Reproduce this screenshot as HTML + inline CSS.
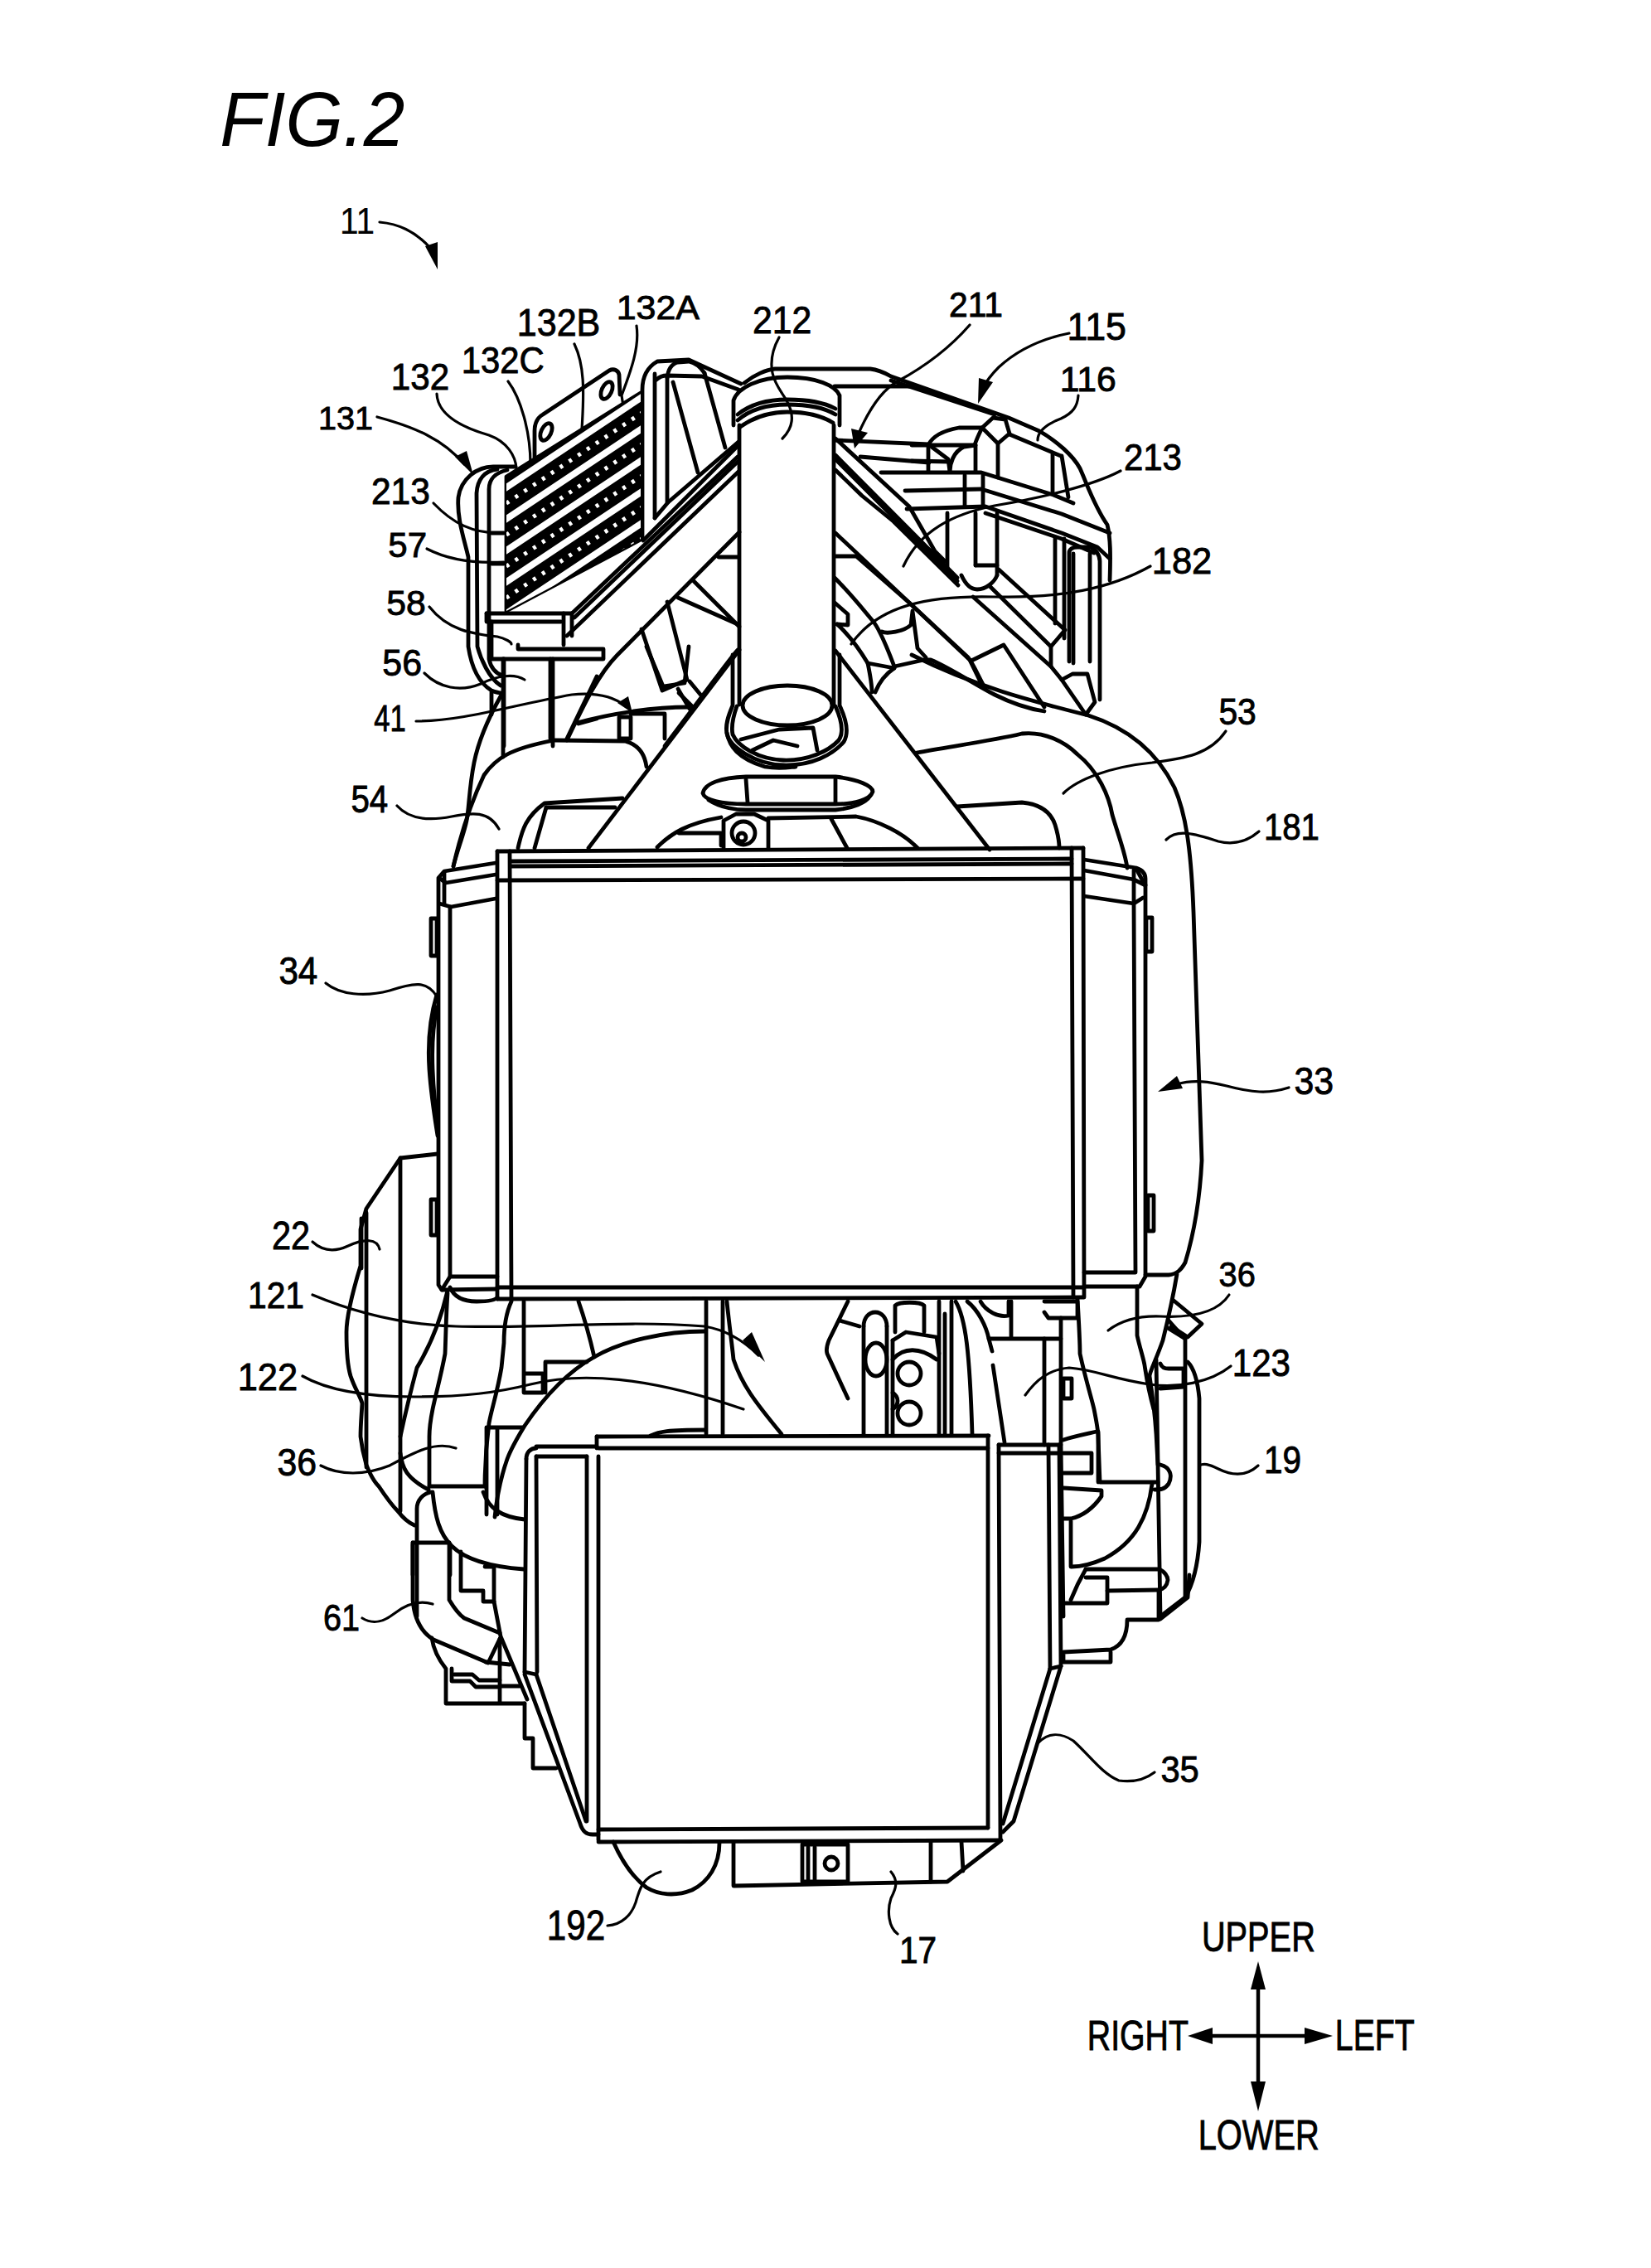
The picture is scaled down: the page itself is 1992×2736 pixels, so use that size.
<!DOCTYPE html>
<html><head><meta charset="utf-8"><style>
html,body{margin:0;padding:0;background:#fff;}
svg{display:block;}
text{font-family:"Liberation Sans",sans-serif;fill:#000;stroke:#000;stroke-width:0.9;}
.s{fill:none;stroke:#000;stroke-width:4.8;stroke-linejoin:round;stroke-linecap:round;}
.t{fill:none;stroke:#000;stroke-width:3.2;stroke-linejoin:round;stroke-linecap:round;}
.f{fill:#000;stroke:none;}
.w{fill:#fff;stroke:#000;stroke-width:4;stroke-linejoin:round;}
</style></head><body>
<svg width="1992" height="2736" viewBox="0 0 1992 2736">
<g class="s"><path d="M600,1027 L1307,1023"/><path d="M617,1039 L1293,1036"/><path d="M617,1045 L1293,1042"/><path d="M600,1062 L1307,1060"/><path d="M600,1553 L1307,1553"/><path d="M600,1567 L1307,1565"/><path d="M600,1027 L600,1567"/><path d="M615,1027 L617,1567"/><path d="M1293,1023 L1295,1565"/><path d="M1307,1023 L1308,1565"/><path d="M598,1041 L536,1051 L529,1059 L529,1550 L533,1556 L600,1555"/><path d="M598,1055 L538,1065 L531,1060"/><path d="M598,1084 L544,1094 L530,1090"/><path d="M536,1053 L536,1090"/><path d="M543,1094 L543,1540 L600,1540"/><path d="M533,1556 L543,1540"/><path d="M520,1108 L527,1108 L527,1153 L520,1153 Z"/><path d="M543,1553 C548,1565 560,1570 575,1570 C590,1570 598,1568 600,1565"/><path d="M1308,1037 L1371,1047 C1377,1049 1382,1053 1382,1060 L1382,1540 L1375,1552 L1308,1552"/><path d="M1308,1050 L1368,1061 L1382,1068"/><path d="M1308,1081 L1368,1090 L1379,1083"/><path d="M1368,1050 L1368,1090"/><path d="M1372,1050 L1380,1065"/><path d="M1368,1090 L1370,1535 L1308,1535"/><path d="M1383,1107 L1390,1107 L1390,1148 L1383,1148 Z"/><path d="M1385,1442 L1392,1442 L1392,1485 L1385,1485 Z"/><path d="M520,1447 L527,1447 L527,1490 L520,1490 Z"/><path d="M527,1200 C518,1230 516,1260 518,1290 C520,1320 524,1345 528,1370"/><path d="M527,1215 C522,1240 521,1265 522,1290 C523,1315 525,1335 528,1355"/><path d="M720,1733 L1193,1732"/><path d="M722,1747 L1192,1747"/><path d="M647,1745 L720,1745"/><path d="M647,1757 L708,1757"/><path d="M1205,1753 L1278,1753"/><path d="M720,1733 L720,1747"/><path d="M1192,1732 L1192,2205"/><path d="M1205,1743 L1207,2220"/><path d="M1205,1743 L1278,1743"/><path d="M1265,1743 L1267,2013"/><path d="M1278,1743 L1280,2010"/><path d="M635,1760 C635,1752 640,1747 647,1747"/><path d="M635,1760 L633,2017"/><path d="M647,1757 L648,2017"/><path d="M708,1757 L708,2197"/><path d="M722,1757 L722,2220"/><path d="M722,2207 L1192,2205"/><path d="M722,2222 L1207,2220"/><path d="M633,2020 L700,2200 C703,2210 708,2213 715,2213 L722,2213"/><path d="M647,2020 L707,2197"/><path d="M1267,2013 L1210,2200"/><path d="M1280,2010 L1223,2197 L1210,2210"/><path d="M633,2017 L647,2020"/><path d="M1267,2013 L1280,2010"/><path d="M885,2223 L885,2275 L1143,2270 L1208,2220"/><path d="M1123,2222 L1123,2270"/><path d="M1160,2222 L1162,2257"/><path d="M968,2225 L1023,2225 L1023,2270 L968,2270 Z"/><path d="M975,2228 L975,2268"/><path d="M983,2228 L983,2268"/><path d="M740,2222 C748,2240 760,2262 780,2277 C795,2286 815,2288 835,2280 C855,2270 868,2250 868,2223"/><path d="M611,575 L773,474 L773,651 L611,737 Z"/><path d="M645,552 L645,520 C645,510 648,504 655,500 L735,447 C741,444 746,447 747,452 L748,476"/><path d="M622,563 L595,563 C575,563 556,578 553,600 C551,625 560,650 565,672 L565,780 C568,800 575,822 593,833 C598,835 602,836 606,836"/><path d="M600,566 C585,568 576,578 575,595 L576,780 C580,795 590,818 604,827"/><path d="M612,567 C598,570 590,578 590,590 L590,795 C592,805 598,812 606,815"/><path d="M593,643 L608,643"/><path d="M593,680 L608,680"/><path d="M587,740 L690,740"/><path d="M587,740 L587,750 L677,750"/><path d="M593,750 L593,795 L728,795 L728,783 L625,783 L625,778"/><path d="M680,740 L680,778"/><path d="M690,740 L690,767"/><path d="M608,795 L608,900"/><path d="M667,795 L667,900"/><path d="M775,648 L775,470 C775,455 781,443 793,436 L831,434 L894,463"/><path d="M790,451 L790,625"/><path d="M805,456 L805,606"/><path d="M792,458 C796,454 800,453 805,453 L847,454 L891,470"/><path d="M805,456 C806,446 810,439 818,437 L831,436 C840,438 846,444 850,450"/><path d="M812,461 L842,570"/><path d="M850,450 L875,540"/><path d="M790,625 L806,606"/><path d="M776,652 L891,537"/><path d="M806,606 L891,533"/><path d="M690,740 L890,551"/><path d="M693,745 L890,557"/><path d="M684,767 L891,569"/><path d="M684,893 C700,860 720,815 745,790 L892,642"/><path d="M837,701 L892,756"/><path d="M818,721 L890,753"/><path d="M867,672 L890,672"/><path d="M805,726 L829,820 L799,833 L774,759"/><path d="M818,831 L832,855"/><path d="M832,822 L846,839"/><path d="M890,784 C880,795 870,810 802,900"/><path d="M710,1023 L892,784"/><path d="M547,1045 C555,1010 565,975 584,935 C598,915 615,903 669,893 L754,894 C770,898 778,910 780,925"/><path d="M604,840 C590,865 578,890 572,920 C566,950 566,975 563,990 C560,1005 552,1025 547,1045"/><path d="M684,891 L720,816"/><path d="M698,873 L720,867"/><path d="M593,835 L593,862"/><path d="M625,1023 C630,1000 635,985 657,969 L751,963"/><path d="M645,1023 L659,974"/><path d="M659,974 L742,974"/><path d="M747,865 L761,865 L761,891 L747,891 Z"/><path d="M761,861 L802,861 L802,891"/><path d="M696,872 C740,860 790,853 831,853"/><path d="M780,780 L800,828 L826,824 L831,780"/><path d="M819,836 L836,853"/><path d="M877,884 C880,900 890,915 923,925 C940,928 950,926 960,925"/><path d="M607,795 L607,913"/><path d="M664,795 L664,891"/><path d="M892,513 L892,850"/><path d="M1006,513 L1006,850"/><path d="M885,513 L885,483 C890,468 915,455 950,455 C985,455 1008,465 1013,477 L1013,513"/><path d="M890,500 C905,488 925,482 950,482 C975,482 995,486 1008,493"/><path d="M890,507 C905,494 925,488 950,488 C975,488 995,492 1008,500"/><path d="M893,515 C910,503 930,497 950,497 C975,497 992,502 1005,510"/><path d="M898,462 C910,452 925,446 935,445 L1050,445 C1060,446 1068,450 1075,454 L1217,504 L1254,520 C1275,532 1295,550 1303,565 C1312,585 1320,610 1336,633 C1340,650 1340,670 1339,700"/><path d="M1075,459 L1200,500"/><path d="M1007,466 L1100,466"/><path d="M1120,569 L1120,537 C1124,528 1135,520 1157,516 L1185,516"/><path d="M1185,516 L1198,504 L1213,506 L1218,523 L1204,535 L1185,516"/><path d="M1176,537 C1178,530 1181,524 1185,516"/><path d="M1177,537 L1177,569"/><path d="M1204,535 L1204,576"/><path d="M1146,569 C1146,560 1150,545 1163,539 L1177,537"/><path d="M1124,539 L1144,554 L1146,569"/><path d="M1100,537 L1177,537"/><path d="M1100,556 L1146,557"/><path d="M1218,524 L1280,550"/><path d="M1270,548 L1270,595"/><path d="M1281,550 L1289,600"/><path d="M1143,619 L1143,684"/><path d="M1177,619 L1177,682"/><path d="M1203,619 L1203,694"/><path d="M1160,694 C1165,705 1172,711 1179,711 C1190,711 1200,702 1203,694"/><path d="M1177,682 L1203,682"/><path d="M1007,531 L1121,536"/><path d="M1038,551 L1121,558"/><path d="M1063,570 L1184,570 L1271,597 L1295,607"/><path d="M1092,592 L1184,590 L1281,620 L1339,643"/><path d="M1094,614 L1189,611 L1281,643 L1324,660 L1339,674"/><path d="M1189,619 L1281,650 L1320,667"/><path d="M1164,573 L1164,611"/><path d="M1186,573 L1186,611"/><path d="M1273,648 L1273,752"/><path d="M1284,650 L1284,770"/><path d="M1290,798 L1290,667 C1290,662 1295,660 1300,660 L1315,660 C1322,662 1327,670 1327,677 L1327,844"/><path d="M1295,668 L1295,800"/><path d="M1315,668 L1315,798"/><path d="M1281,820 L1294,813 L1312,813 L1321,847 L1310,862 L1281,820"/><path d="M1008,529 L1097,611 L1128,665 L1140,677"/><path d="M1008,549 L1155,697"/><path d="M1008,554 L1155,701"/><path d="M1008,567 L1040,598 L1078,629 L1156,706"/><path d="M1008,643 L1170,796 L1186,829"/><path d="M1205,687 L1285,760 L1268,780 L1268,804"/><path d="M1194,707 L1268,780"/><path d="M1174,720 L1268,804 L1281,820"/><path d="M884,790 L884,851 C878,865 875,875 877,885 C880,900 910,922 945,923 C980,924 1005,910 1018,895 C1024,885 1022,870 1013,851 L1013,790"/><path d="M889,852 C884,866 882,876 884,886 C890,900 915,916 945,917 C975,918 1000,906 1012,893 C1018,884 1016,870 1008,852"/><path d="M894,892 L940,880 L981,878 L986,905"/><path d="M908,905 L933,893 L962,900"/><path d="M900,937 L1008,937 C1035,940 1053,948 1053,955 C1050,965 1030,970 1008,970 L900,970 C870,970 850,965 848,957 C850,945 870,938 900,937 Z"/><path d="M855,965 C870,975 890,977 900,977 L1008,977 C1030,975 1045,968 1050,960"/><path d="M900,940 L902,968"/><path d="M1008,940 L1008,968"/><path d="M873,1023 L873,990 L888,982 L910,982 L927,990 L927,1023"/><path d="M793,1022 C810,1005 830,993 870,986"/><path d="M819,1005 L870,1005 L870,1020"/><path d="M927,987 L1033,985 C1060,990 1090,1005 1107,1023"/><path d="M1003,988 L1022,1023"/><path d="M1008,785 L1194,1025"/><path d="M1007,671 L1033,671 L1097,727 L1168,793 C1175,802 1180,815 1189,831"/><path d="M1007,697 C1030,720 1045,740 1053,749 C1060,757 1068,775 1079,804"/><path d="M1007,727 L1023,741 L1023,754 L1010,753"/><path d="M1010,753 C1020,762 1035,780 1047,800 C1050,815 1052,825 1052,835"/><path d="M1064,762 C1070,765 1090,762 1099,754 L1101,737 L1107,782 L1117,793"/><path d="M1047,800 L1079,806"/><path d="M1079,804 L1115,796 L1123,796 C1145,805 1175,825 1200,838 C1220,848 1240,855 1260,858"/><path d="M1056,835 C1062,820 1070,812 1079,806"/><path d="M1172,797 L1211,778 L1260,853"/><path d="M1106,908 C1150,900 1200,893 1233,885 C1260,882 1285,895 1300,910 C1325,930 1338,960 1342,983 C1350,1010 1358,1030 1360,1047"/><path d="M1155,973 L1233,968 C1255,970 1268,980 1273,995 C1277,1008 1278,1015 1278,1023"/><path d="M1100,790 C1180,830 1250,847 1313,863 C1360,878 1395,905 1417,950 C1430,980 1437,1020 1440,1100 L1450,1400 C1448,1440 1443,1480 1430,1523 C1425,1532 1420,1537 1410,1538 L1382,1538"/><path d="M528,1392 L483,1397 L442,1458 L435,1483 L435,1527 C425,1560 418,1590 418,1607 C418,1630 420,1650 423,1660 C428,1675 435,1685 437,1693 C436,1710 435,1720 435,1733 C437,1750 440,1760 442,1767 C447,1780 452,1788 457,1793 C465,1805 472,1815 480,1823 C487,1832 493,1837 500,1840"/><path d="M442,1463 L442,1770"/><path d="M436,1470 L436,1530"/><path d="M483,1397 L483,1823"/><path d="M540,1557 C530,1600 515,1630 503,1650 C495,1680 488,1710 483,1733"/><path d="M540,1560 C538,1590 538,1610 537,1633 C532,1660 525,1685 522,1700 C518,1720 518,1733 518,1733 L518,1793"/><path d="M617,1570 C610,1585 608,1600 608,1620 C606,1640 605,1650 605,1650 C600,1680 593,1700 590,1717 C587,1740 585,1760 585,1793"/><path d="M518,1793 L585,1793"/><path d="M483,1753 C485,1770 490,1783 517,1797"/><path d="M583,1800 C590,1820 605,1830 633,1833"/><path d="M851,1606 C800,1606 750,1618 717,1637 C690,1652 660,1680 633,1720 C622,1738 615,1752 612,1760 C605,1780 600,1800 597,1830"/><path d="M785,1732 C795,1727 805,1725 851,1725"/><path d="M632,1570 L632,1680"/><path d="M698,1570 C705,1590 712,1615 717,1637"/><path d="M658,1680 L658,1643 L708,1643"/><path d="M633,1657 L655,1657 L655,1680 L633,1680"/><path d="M587,1722 L630,1722"/><path d="M587,1723 L587,1827"/><path d="M600,1723 L600,1827"/><path d="M522,1800 C525,1830 530,1850 545,1865 C560,1880 590,1890 632,1893"/><path d="M503,1950 L503,1820 C503,1810 510,1802 520,1800"/><path d="M498,1863 L498,1900"/><path d="M543,1863 L543,1900"/><path d="M498,1861 L542,1861"/><path d="M498,1861 L498,1930 C500,1955 510,1970 523,1978 L589,2006 L603,1977"/><path d="M521,1976 C523,1990 530,2003 538,2013 L538,2055 L633,2055"/><path d="M545,2013 L545,2028 L567,2028 L574,2035 L603,2035"/><path d="M548,2020 L570,2020 L578,2027 L603,2027"/><path d="M603,1977 L603,2053"/><path d="M542,1861 L542,1930 C548,1940 553,1947 560,1952 L603,1970"/><path d="M556,1872 L556,1919 L583,1919 L583,1932 L596,1932"/><path d="M585,1890 L596,1890 L596,1932"/><path d="M596,1932 L604,1974 L636,2050"/><path d="M586,2005 L615,2008"/><path d="M604,2034 L627,2034"/><path d="M633,2055 L633,2097 L643,2097 L643,2133 L671,2133"/><path d="M852,1570 L852,1730"/><path d="M872,1570 L872,1730"/><path d="M877,1570 C880,1600 883,1620 885,1640 C895,1670 910,1690 943,1730"/><path d="M1023,1570 L1000,1617 C997,1625 997,1630 998,1633 L1023,1687"/><path d="M1013,1593 L1037,1600"/><path d="M1042,1600 L1042,1730"/><path d="M1070,1600 L1070,1730"/><path d="M1042,1600 C1042,1590 1048,1583 1056,1583 C1064,1583 1070,1590 1070,1600"/><path d="M1080,1607 L1080,1575 C1085,1570 1110,1570 1115,1575 L1115,1607"/><path d="M1077,1617 L1077,1730"/><path d="M1077,1617 L1093,1607 L1130,1613 L1133,1633"/><path d="M1077,1640 C1090,1625 1110,1625 1130,1640"/><path d="M1077,1680 C1085,1685 1085,1695 1077,1700"/><path d="M1133,1570 L1133,1730"/><path d="M1140,1585 L1140,1730"/><path d="M1148,1570 L1148,1730"/><path d="M1153,1570 C1165,1590 1170,1630 1173,1730"/><path d="M1167,1570 C1180,1580 1190,1600 1193,1615 L1197,1630"/><path d="M1183,1570 C1190,1582 1205,1590 1217,1587 L1217,1570"/><path d="M1220,1570 L1220,1613"/><path d="M1193,1615 L1280,1615"/><path d="M1198,1647 L1212,1740"/><path d="M1260,1615 L1260,1743"/><path d="M1260,1570 L1300,1570 L1300,1590 L1265,1590 L1260,1583"/><path d="M1280,1590 L1280,1743"/><path d="M1300,1567 C1302,1600 1303,1620 1303,1633 C1310,1665 1318,1690 1320,1700 C1323,1715 1325,1725 1325,1733 L1327,1787"/><path d="M1283,1663 L1293,1663 L1293,1687 L1283,1687 Z"/><path d="M1327,1788 L1397,1788"/><path d="M1283,1795 L1329,1798 L1329,1805 C1322,1815 1310,1828 1292,1832 L1283,1832"/><path d="M1292,1835 L1292,1890"/><path d="M1390,1790 C1385,1830 1370,1860 1333,1880 C1315,1888 1300,1890 1293,1890"/><path d="M1283,1753 L1317,1753 L1317,1777 L1283,1777"/><path d="M1283,1737 C1295,1733 1310,1730 1323,1727"/><path d="M1280,1743 L1283,1950"/><path d="M1420,1537 C1417,1555 1413,1577 1403,1617 C1395,1640 1387,1655 1387,1660 C1390,1680 1393,1700 1395,1730 L1397,1767"/><path d="M1372,1552 L1372,1611 C1375,1625 1380,1640 1381,1647 C1383,1660 1385,1675 1392,1700"/><path d="M1415,1568 L1450,1597 L1433,1613 L1413,1600"/><path d="M1430,1613 L1430,1927"/><path d="M1433,1643 C1440,1650 1445,1665 1447,1687 L1447,1860 C1445,1890 1440,1910 1430,1927 L1400,1950"/><path d="M1400,1645 C1402,1650 1405,1651 1410,1651 L1428,1651 L1428,1673 L1400,1675"/><path d="M1409,1602 L1430,1615"/><path d="M1410,1593 L1426,1611"/><path d="M1395,1640 L1400,1950"/><path d="M1400,1767 C1412,1770 1415,1780 1410,1790 C1405,1797 1400,1797 1393,1797"/><path d="M1325,1727 L1325,1788"/><path d="M1310,1893 L1398,1893 C1405,1895 1409,1902 1409,1906 C1408,1913 1404,1917 1398,1918 L1336,1919"/><path d="M1310,1903 L1336,1903 L1336,1934 L1283,1934"/><path d="M1292,1930 C1298,1915 1303,1905 1310,1893"/><path d="M1398,1919 L1398,1954 L1360,1954 C1360,1970 1355,1985 1340,1990 L1283,1993 L1283,2005 L1340,2005 L1340,1993"/><path d="M1400,1953 L1433,1927 L1435,1900"/></g>
<g class="t"><path d="M458,268 C480,270 500,278 520,300"/><path d="M455,503 C500,515 535,530 560,560"/><path d="M527,475 C528,500 555,515 590,525 C612,533 622,550 623,565"/><path d="M613,460 C628,480 640,520 640,560 L645,590 L688,620"/><path d="M693,415 C705,440 705,470 702,518"/><path d="M768,393 C772,420 760,450 750,477 L757,523"/><path d="M523,607 C545,630 570,645 610,643"/><path d="M515,662 C540,675 570,680 608,678"/><path d="M518,732 C540,760 570,765 600,768 C610,770 617,775 617,777"/><path d="M512,812 C530,830 555,835 580,825 C600,815 620,812 633,820"/><path d="M502,870 C560,870 620,850 690,838 C720,835 740,840 755,852"/><path d="M940,407 C930,425 930,440 932,450 C935,465 945,475 950,485 C958,500 958,515 944,529"/><path d="M1352,568 C1320,585 1260,600 1200,610 C1150,620 1110,640 1090,683"/><path d="M1388,683 C1340,710 1280,722 1200,720 C1120,718 1060,730 1027,777"/><path d="M1479,882 C1460,910 1430,915 1390,920 C1340,925 1300,940 1283,957"/><path d="M479,972 C495,990 520,990 545,985 C570,980 590,978 602,1000"/><path d="M1519,1003 C1505,1015 1490,1020 1470,1015 C1440,1005 1420,1000 1407,1013"/><path d="M393,1186 C410,1200 440,1203 470,1195 C500,1185 515,1183 527,1202"/><path d="M1555,1312 C1530,1320 1510,1318 1480,1310 C1460,1305 1440,1302 1420,1308"/><path d="M377,1498 C390,1510 405,1510 420,1503 C440,1494 455,1494 458,1507"/><path d="M377,1562 C420,1580 480,1598 550,1600 C650,1603 750,1592 850,1600 C880,1605 900,1620 915,1635"/><path d="M365,1660 C400,1680 450,1685 500,1685 C560,1685 600,1680 640,1670 C700,1655 780,1660 897,1700"/><path d="M387,1768 C410,1780 440,1780 470,1768 C500,1752 525,1738 550,1747"/><path d="M1483,1562 C1470,1582 1440,1590 1400,1588 C1370,1587 1350,1595 1337,1605"/><path d="M1485,1648 C1460,1668 1420,1675 1387,1670 C1340,1663 1320,1652 1290,1650 C1265,1652 1250,1665 1237,1683"/><path d="M1518,1768 C1505,1780 1490,1782 1470,1772 C1458,1766 1452,1765 1447,1768"/><path d="M437,1952 C450,1960 462,1957 475,1947 C490,1935 505,1930 522,1935"/><path d="M1393,2138 C1380,2148 1365,2150 1350,2148 C1330,2140 1315,2118 1295,2100 C1280,2090 1265,2090 1253,2102"/><path d="M733,2323 C750,2322 762,2310 767,2295 C772,2278 775,2265 797,2258"/><path d="M1083,2333 C1072,2325 1070,2305 1075,2290 C1080,2280 1085,2270 1075,2258"/><path d="M1170,392 C1150,415 1120,440 1083,460 C1065,470 1050,490 1035,525"/><path d="M1290,402 C1260,408 1230,420 1205,443 C1195,453 1190,460 1186,468"/><path d="M1301,477 C1300,490 1295,498 1280,505 C1262,512 1252,520 1252,531"/></g>
<g class="s" style="stroke-width:4.5"><path d="M1518,2380 L1518,2535"/><path d="M1445,2456 L1595,2456"/></g>
<g class="f"><path d="M513,297 L528,292 L528,325 Z"/><path d="M549,551 L563,544 L571,573 Z"/><path d="M745,848 L758,840 L763,860 Z"/><path d="M1181,456 L1198,461 L1180,487 Z"/><path d="M1420,1298 L1427,1313 L1397,1317 Z"/><path d="M896,1617 L907,1607 L923,1643 Z"/><path d="M1518,2366 L1509,2400 L1527,2400 Z"/><path d="M1518,2547 L1509,2511 L1527,2511 Z"/><path d="M1433,2456 L1463,2446 L1463,2466 Z"/><path d="M1608,2456 L1574,2446 L1574,2466 Z"/><path d="M1027,517 L1047,522 L1031,541 Z"/></g>
<circle cx="1003" cy="2248" r="8" class="s"/>
<defs><clipPath id="core"><path d="M611,575 L773,474 L773,651 L611,737 Z"/></clipPath></defs>
<g clip-path="url(#core)">
<rect x="600" y="460" width="180" height="290" fill="#000"/>
<g stroke="#fff" stroke-width="8" fill="none"><path d="M600,595.4 L780,475.3"/><path d="M600,633.4 L780,513.3"/><path d="M600,671.4 L780,551.3"/><path d="M600,709.4 L780,589.3"/><path d="M600,747.4 L780,627.3"/><path d="M600,785.4 L780,665.3"/></g>
<g stroke="#fff" stroke-width="5" stroke-dasharray="4 9" fill="none"><path d="M600,614.4 L780,494.3"/><path d="M600,652.4 L780,532.3"/><path d="M600,690.4 L780,570.3"/><path d="M600,728.4 L780,608.3"/><path d="M600,766.4 L780,646.3"/></g>
</g>
<ellipse cx="659" cy="521" rx="6" ry="11" transform="rotate(25 659 521)" class="s"/>
<ellipse cx="732" cy="471" rx="6" ry="11" transform="rotate(25 732 471)" class="s"/>
<ellipse cx="950" cy="851" rx="54" ry="24" class="s"/>
<circle cx="897" cy="1005" r="14" class="s"/>
<circle cx="895" cy="1010" r="5" class="s"/>
<ellipse cx="1057" cy="1640" rx="13" ry="20" class="s"/>
<circle cx="1097" cy="1657" r="14" class="s"/>
<circle cx="1097" cy="1705" r="14" class="s"/>
<g><text transform="translate(743.7,384.6) scale(1.048,1)" font-size="41.0" style="">132A</text><text transform="translate(623.7,404.6) scale(0.923,1)" font-size="46.7" style="">132B</text><text transform="translate(556.8,449.6) scale(0.923,1)" font-size="45.3" style="">132C</text><text transform="translate(471.8,469.6) scale(0.932,1)" font-size="45.3" style="">132</text><text transform="translate(384.0,517.6) scale(0.999,1)" font-size="39.6" style="">131</text><text transform="translate(907.9,402.0) scale(0.931,1)" font-size="45.9" style="">212</text><text transform="translate(1145.0,382.0) scale(0.949,1)" font-size="43.0" style="">211</text><text transform="translate(1287.6,409.6) scale(0.975,1)" font-size="45.9" style="">115</text><text transform="translate(1278.7,471.6) scale(1.008,1)" font-size="42.4" style="">116</text><text transform="translate(447.9,607.6) scale(0.971,1)" font-size="43.8" style="">213</text><text transform="translate(1355.9,566.6) scale(0.927,1)" font-size="45.3" style="">213</text><text transform="translate(468.3,671.6) scale(0.978,1)" font-size="43.0" style="">57</text><text transform="translate(466.3,741.6) scale(1.009,1)" font-size="42.4" style="">58</text><text transform="translate(461.3,814.6) scale(0.947,1)" font-size="45.3" style="">56</text><text transform="translate(451.2,882.0) scale(0.793,1)" font-size="43.7" style="">41</text><text transform="translate(1389.7,691.6) scale(0.961,1)" font-size="45.3" style="">182</text><text transform="translate(1470.4,873.6) scale(0.933,1)" font-size="43.8" style="">53</text><text transform="translate(423.4,979.6) scale(0.878,1)" font-size="45.9" style="">54</text><text transform="translate(1524.9,1012.6) scale(0.917,1)" font-size="43.8" style="">181</text><text transform="translate(336.4,1186.6) scale(0.931,1)" font-size="45.3" style="">34</text><text transform="translate(1561.4,1319.6) scale(0.945,1)" font-size="45.3" style="">33</text><text transform="translate(327.9,1507.0) scale(0.852,1)" font-size="48.8" style="">22</text><text transform="translate(298.9,1578.0) scale(0.919,1)" font-size="44.5" style="">121</text><text transform="translate(1470.5,1551.6) scale(0.939,1)" font-size="42.4" style="">36</text><text transform="translate(1486.8,1659.6) scale(0.928,1)" font-size="45.3" style="">123</text><text transform="translate(286.7,1677.0) scale(0.947,1)" font-size="45.9" style="">122</text><text transform="translate(334.4,1779.6) scale(0.945,1)" font-size="45.3" style="">36</text><text transform="translate(1524.9,1776.6) scale(0.894,1)" font-size="45.3" style="">19</text><text transform="translate(390.0,1966.6) scale(0.874,1)" font-size="45.3" style="">61</text><text transform="translate(1400.4,2149.6) scale(0.921,1)" font-size="45.3" style="">35</text><text transform="translate(659.8,2339.6) scale(0.852,1)" font-size="49.5" style="">192</text><text transform="translate(1084.9,2368.0) scale(0.900,1)" font-size="45.1" style="">17</text><text transform="translate(1449.9,2353.5) scale(0.792,1)" font-size="50.2" style="">UPPER</text><text transform="translate(1311.8,2472.6) scale(0.793,1)" font-size="49.5" style="">RIGHT</text><text transform="translate(1610.8,2473.1) scale(0.772,1)" font-size="50.9" style="">LEFT</text><text transform="translate(1445.7,2592.6) scale(0.805,1)" font-size="49.5" style="">LOWER</text><text transform="translate(265.2,176.2) scale(0.971,1)" font-size="91.9" style="font-style:italic;stroke-width:0">FIG.2</text><text transform="translate(409.9,282.0) scale(0.929,1)" font-size="43.7" style="stroke-width:0.2">11</text></g>
</svg>
</body></html>
